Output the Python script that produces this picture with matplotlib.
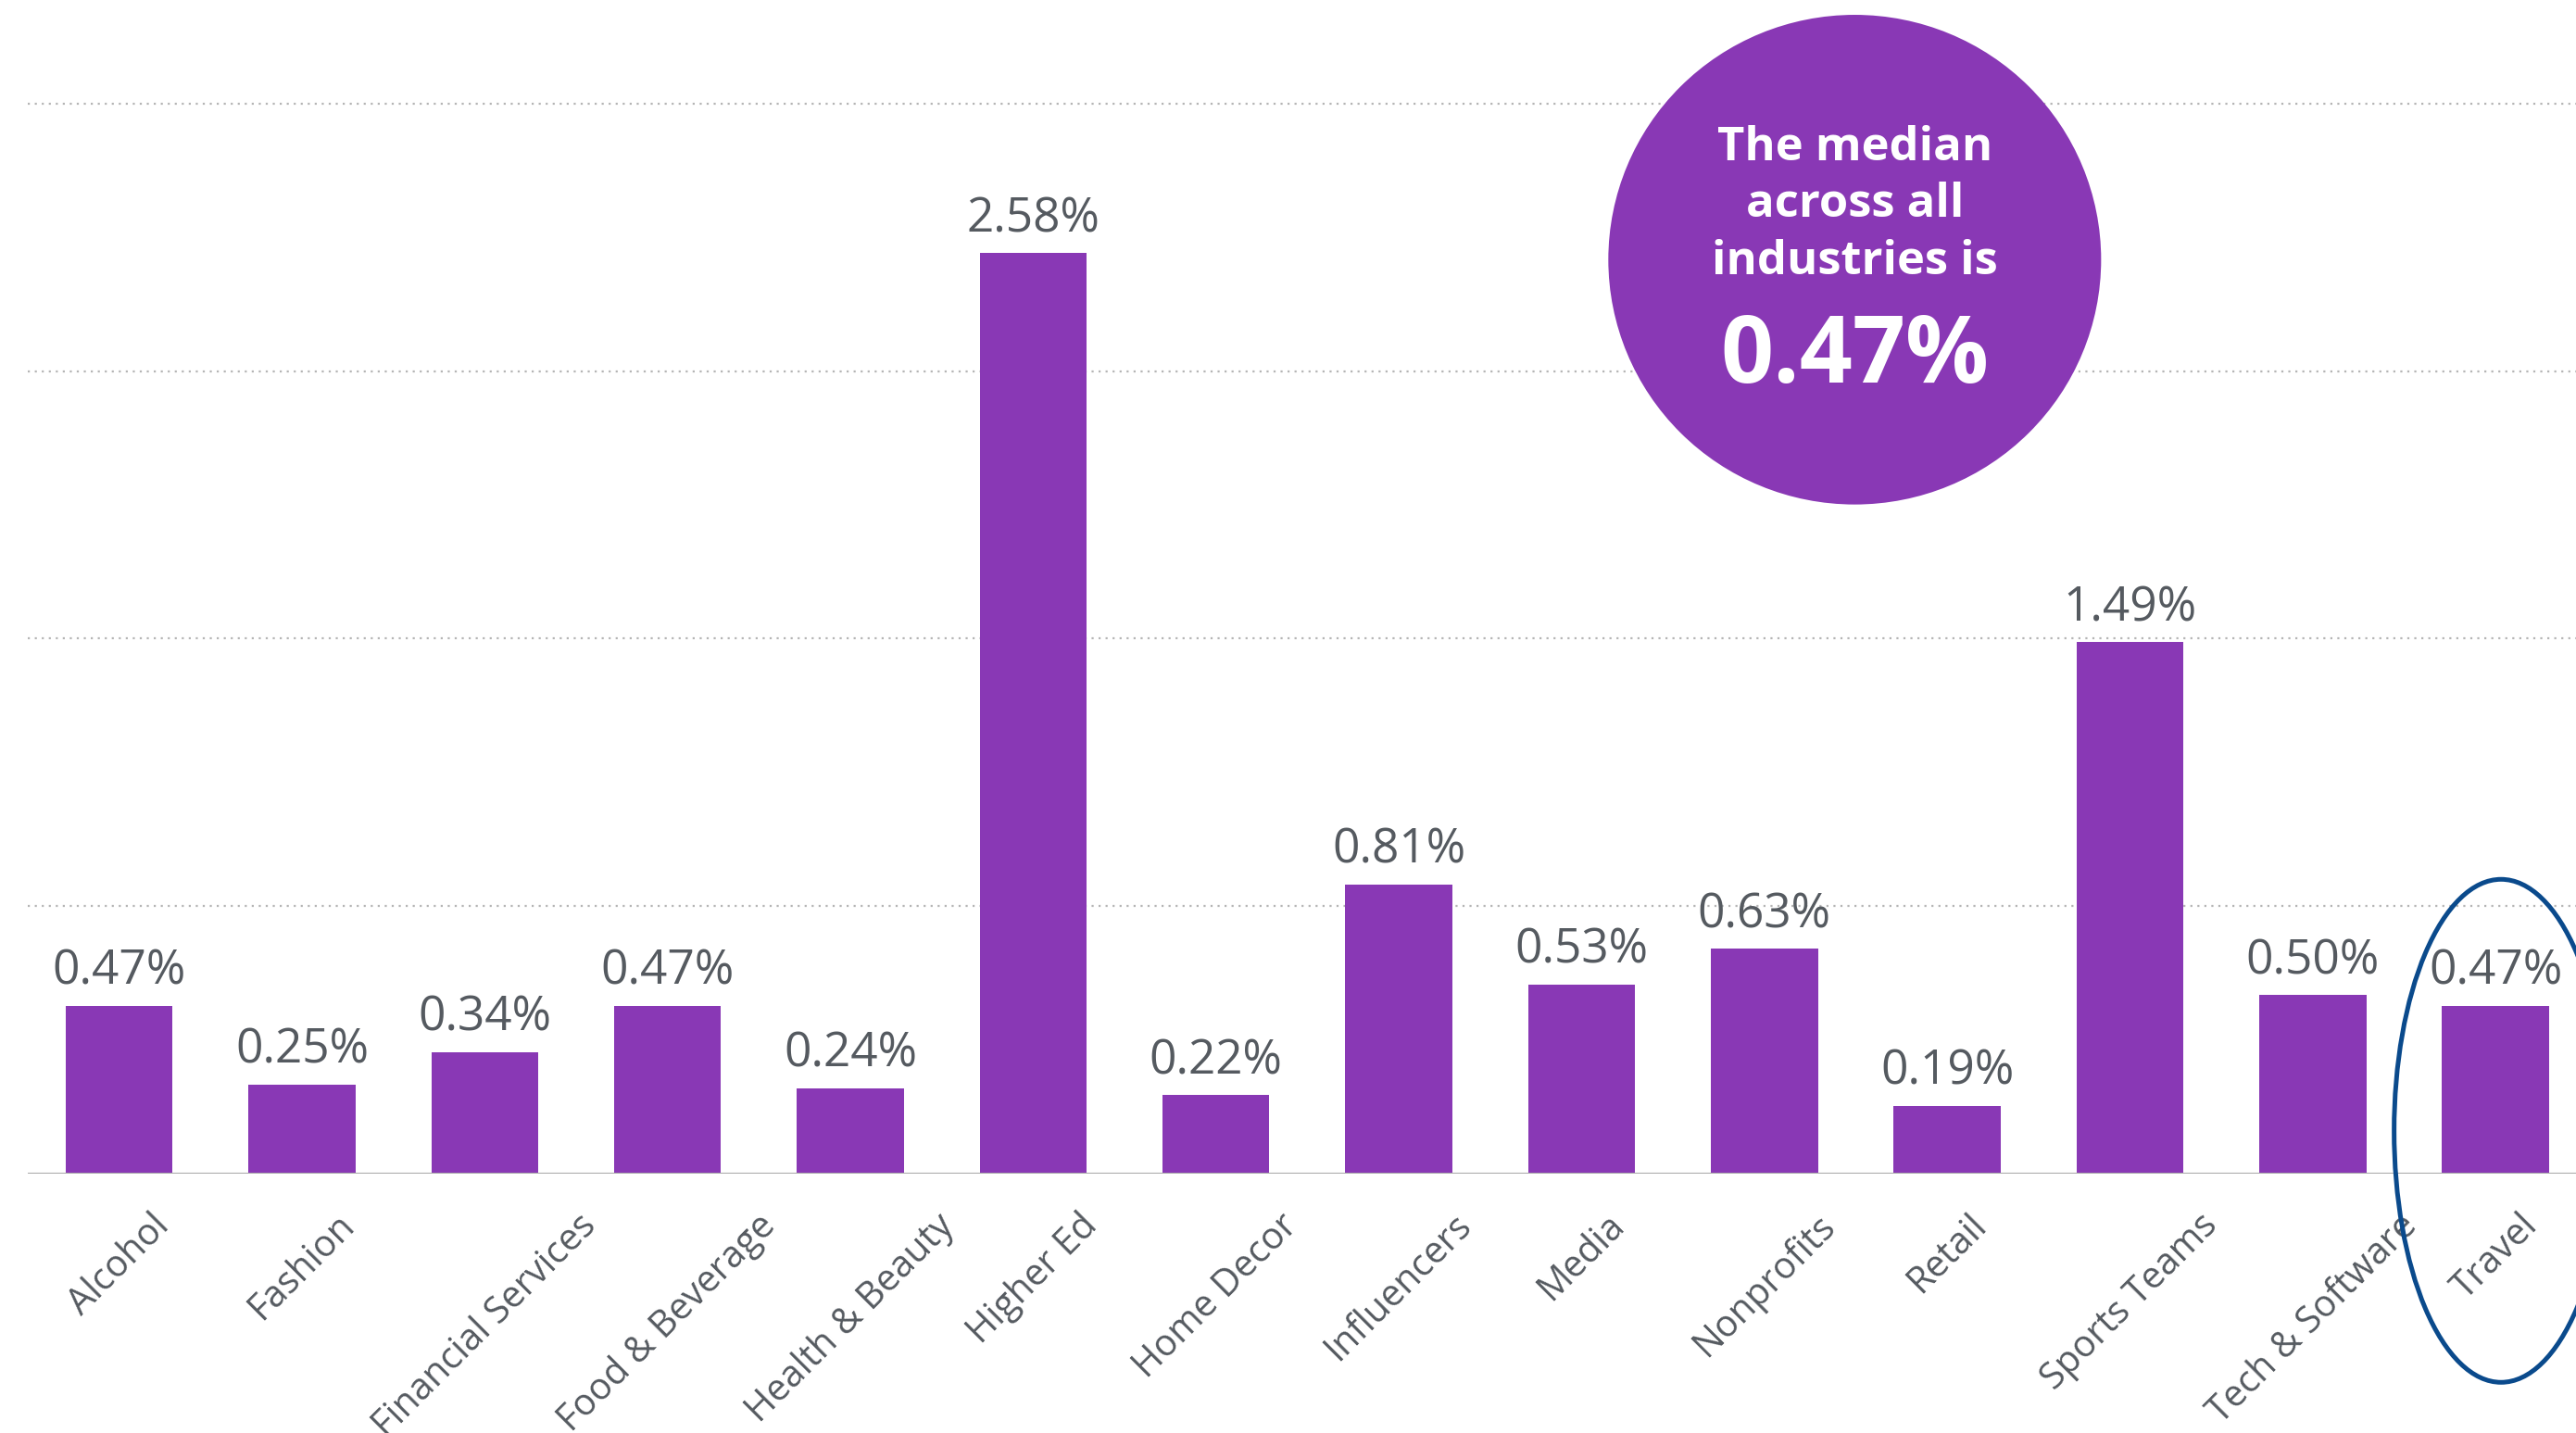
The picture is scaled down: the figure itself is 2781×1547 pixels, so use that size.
import matplotlib
matplotlib.use("Agg")
import matplotlib.pyplot as plt
from matplotlib.patches import Ellipse

# Engagement rate by industry
industries = ["Alcohol", "Fashion", "Financial Services", "Food & Beverage",
              "Health & Beauty", "Higher Ed", "Home Decor", "Influencers",
              "Media", "Nonprofits", "Retail", "Sports Teams",
              "Tech & Software", "Travel"]
rates = [0.47, 0.25, 0.34, 0.47, 0.24, 2.58, 0.22, 0.81,
         0.53, 0.63, 0.19, 1.49, 0.50, 0.47]
grid_levels = [0.75, 1.5, 2.25, 3.0]
median_rate = 0.47
highlight = "Travel"

purple = "#8938B5"
text_gray = "#555a60"

plt.rcParams['font.family'] = ['Open Sans', 'DejaVu Sans']

fig = plt.figure(figsize=(27.81, 15.47), dpi=100)
ax = fig.add_axes([0.0108, 0.181, 0.9892, 0.819])
ax.set_xlim(-0.5, 13.44)
ax.set_ylim(0, 3.29)

# dotted horizontal guides
for lvl in grid_levels:
    ax.axhline(lvl, color="#b5b5b5", lw=1.6, linestyle=(0, (1, 2.4)), zorder=1)
ax.axhline(0, color="#aaaaaa", lw=2.2, zorder=3)

x = range(len(industries))
ax.bar(x, rates, width=0.585, color=purple, zorder=2)

for i, v in enumerate(rates):
    ax.annotate(f"{v:.2f}%", (i, v), xytext=(0, 8), textcoords="offset points",
                ha="center", va="bottom", fontsize=37, color=text_gray)

# rotated category labels, box centred under each bar
for i, name in enumerate(industries):
    ax.annotate(name, (i, 0), xytext=(0, -26), textcoords="offset points",
                ha="center", va="top", rotation=45,
                fontsize=28.5, color=text_gray, annotation_clip=False)

for s in ax.spines.values():
    s.set_visible(False)
ax.set_xticks([])
ax.set_yticks([])

# median callout bubble
fig.patches.append(Ellipse((0.72, 0.8188), 0.1913, 0.3417, transform=fig.transFigure,
                           facecolor=purple, edgecolor="none", zorder=5))
fig.text(0.72, 0.857, "The median\nacross all\nindustries is", ha="center", va="center",
         fontsize=36.5, fontweight="bold", color="white", linespacing=1.3, zorder=6)
fig.text(0.72, 0.750, f"{median_rate:.2f}%", ha="center", va="center",
         fontsize=72, fontweight="bold", color="white", zorder=6)

# ring around the highlighted industry
hi = industries.index(highlight)
ax.add_patch(Ellipse((hi + 0.03, 0.12), 1.17, 1.41, facecolor="none", edgecolor="#0a4a8c",
                     lw=3.6, clip_on=False, zorder=4))

fig.savefig("out.png", dpi=100)
